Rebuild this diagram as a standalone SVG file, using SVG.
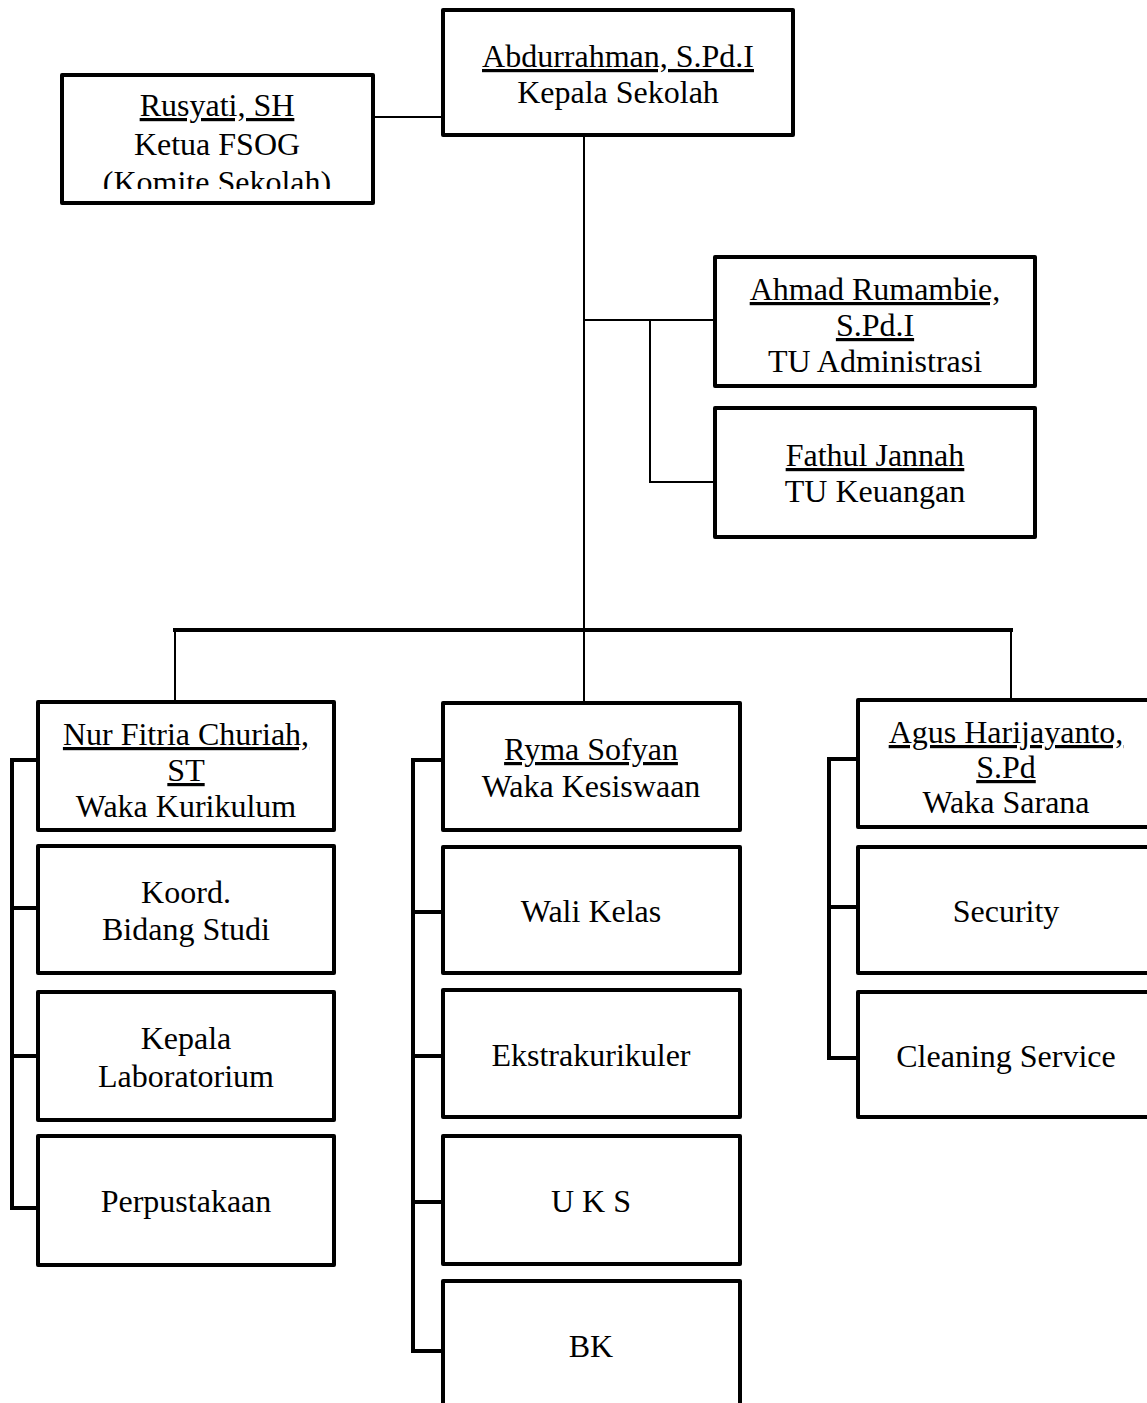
<svg xmlns="http://www.w3.org/2000/svg" width="1147" height="1403" viewBox="0 0 1147 1403">
<style>
.box{fill:#fff;stroke:#000;stroke-width:4;stroke-linejoin:round}
.t{font-family:"Liberation Serif","Times New Roman",serif;font-size:32px;fill:#000;text-anchor:middle}
.u{text-decoration:underline}
.thin{stroke:#000;stroke-width:2;fill:none}
.thick{stroke:#000;stroke-width:4;fill:none}
</style>
<defs>
<clipPath id="clipRus"><rect x="64" y="77" width="307" height="112"/></clipPath>
</defs>
<rect width="1147" height="1403" fill="#fff"/>
<g id="connectors">
<line class="thin" x1="373" y1="117" x2="443" y2="117"/>
<line class="thin" x1="584" y1="135" x2="584" y2="703"/>
<line class="thin" x1="584" y1="320" x2="715" y2="320"/>
<polyline class="thin" points="650,320 650,482 715,482"/>
<line class="thick" x1="173" y1="630" x2="1013" y2="630"/>
<line class="thin" x1="175" y1="630" x2="175" y2="702"/>
<line class="thin" x1="1011" y1="630" x2="1011" y2="700"/>
<polyline class="thick" points="38,760 12,760 12,1208 38,1208"/>
<line class="thick" x1="12" y1="908" x2="38" y2="908"/>
<line class="thick" x1="12" y1="1056" x2="38" y2="1056"/>
<polyline class="thick" points="443,760 413,760 413,1351 443,1351"/>
<line class="thick" x1="413" y1="912" x2="443" y2="912"/>
<line class="thick" x1="413" y1="1056" x2="443" y2="1056"/>
<line class="thick" x1="413" y1="1202" x2="443" y2="1202"/>
<polyline class="thick" points="858,759 829,759 829,1058 858,1058"/>
<line class="thick" x1="829" y1="907" x2="858" y2="907"/>
</g>
<g id="kepala">
<rect class="box" x="443" y="10" width="350" height="125"/>
<text class="t" x="618" y="67"><tspan class="u">Abdurrahman, S.Pd.I</tspan></text>
<text class="t" x="618" y="103">Kepala Sekolah</text>
</g>
<g id="komite">
<rect class="box" x="62" y="75" width="311" height="128"/>
<g clip-path="url(#clipRus)">
<text class="t" x="217" y="116"><tspan class="u">Rusyati, SH</tspan></text>
<text class="t" x="217" y="155">Ketua FSOG</text>
<text class="t" x="217" y="193">(Komite Sekolah)</text>
</g>
</g>
<g id="tu-admin">
<rect class="box" x="715" y="257" width="320" height="129"/>
<text class="t" x="875" y="300"><tspan class="u">Ahmad Rumambie,</tspan></text>
<text class="t" x="875" y="336"><tspan class="u">S.Pd.I</tspan></text>
<text class="t" x="875" y="372">TU Administrasi</text>
</g>
<g id="tu-keuangan">
<rect class="box" x="715" y="408" width="320" height="129"/>
<text class="t" x="875" y="466"><tspan class="u">Fathul Jannah</tspan></text>
<text class="t" x="875" y="502">TU Keuangan</text>
</g>
<g id="waka-kurikulum">
<rect class="box" x="38" y="702" width="296" height="128"/>
<text class="t" x="186" y="745"><tspan class="u">Nur Fitria Churiah,</tspan></text>
<text class="t" x="186" y="781"><tspan class="u">ST</tspan></text>
<text class="t" x="186" y="817">Waka Kurikulum</text>
</g>
<g id="koord">
<rect class="box" x="38" y="846" width="296" height="127"/>
<text class="t" x="186" y="903">Koord.</text>
<text class="t" x="186" y="940">Bidang Studi</text>
</g>
<g id="lab">
<rect class="box" x="38" y="992" width="296" height="128"/>
<text class="t" x="186" y="1049">Kepala</text>
<text class="t" x="186" y="1087">Laboratorium</text>
</g>
<g id="perpus">
<rect class="box" x="38" y="1136" width="296" height="129"/>
<text class="t" x="186" y="1212">Perpustakaan</text>
</g>
<g id="waka-kesiswaan">
<rect class="box" x="443" y="703" width="297" height="127"/>
<text class="t" x="591" y="760"><tspan class="u">Ryma Sofyan</tspan></text>
<text class="t" x="591" y="797">Waka Kesiswaan</text>
</g>
<g id="wali-kelas">
<rect class="box" x="443" y="847" width="297" height="126"/>
<text class="t" x="591" y="922">Wali Kelas</text>
</g>
<g id="ekstra">
<rect class="box" x="443" y="990" width="297" height="127"/>
<text class="t" x="591" y="1066">Ekstrakurikuler</text>
</g>
<g id="uks">
<rect class="box" x="443" y="1136" width="297" height="128"/>
<text class="t" x="591" y="1212">U K S</text>
</g>
<g id="bk">
<rect class="box" x="443" y="1281" width="297" height="140"/>
<text class="t" x="591" y="1357">BK</text>
</g>
<g id="waka-sarana">
<rect class="box" x="858" y="700" width="300" height="127"/>
<text class="t" x="1006" y="743"><tspan class="u">Agus Harijayanto,</tspan></text>
<text class="t" x="1006" y="778"><tspan class="u">S.Pd</tspan></text>
<text class="t" x="1006" y="813">Waka Sarana</text>
</g>
<g id="security">
<rect class="box" x="858" y="847" width="300" height="126"/>
<text class="t" x="1006" y="922">Security</text>
</g>
<g id="cleaning">
<rect class="box" x="858" y="992" width="300" height="125"/>
<text class="t" x="1006" y="1067">Cleaning Service</text>
</g>
</svg>
